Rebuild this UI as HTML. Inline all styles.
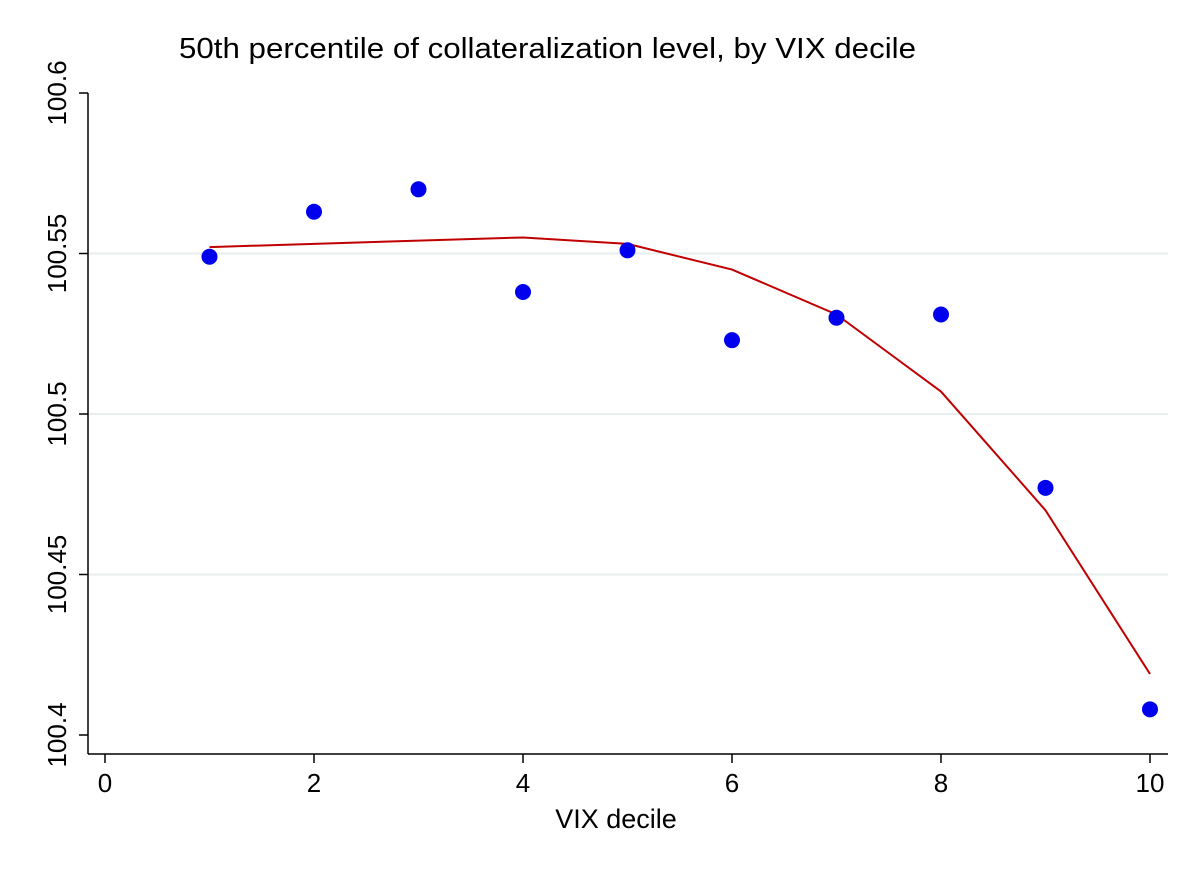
<!DOCTYPE html>
<html><head><meta charset="utf-8"><style>
html,body{margin:0;padding:0;background:#fff;}
svg text{font-family:"Liberation Sans",sans-serif;fill:#000;}
</style></head><body>
<svg width="1200" height="873" viewBox="0 0 1200 873">
<rect width="1200" height="873" fill="#fff"/>
<text x="179" y="58" font-size="29" textLength="737" lengthAdjust="spacingAndGlyphs">50th percentile of collateralization level, by VIX decile</text>
<g id="grid"></g>
<g id="axes"></g>
<g id="series"></g>
<text x="616" y="828" font-size="27" text-anchor="middle">VIX decile</text>
</svg>
<script>
const deciles=[1,2,3,4,5,6,7,8,9,10];
const medianValues=[100.549,100.563,100.570,100.538,100.551,100.523,100.530,100.531,100.477,100.408];
const fitValues=[100.552,100.553,100.554,100.555,100.553,100.545,100.531,100.507,100.470,100.419];
const xTicks=[0,2,4,6,8,10];
const yTicks=[100.4,100.45,100.5,100.55,100.6];
const yTickLabels=["100.4","100.45","100.5","100.55","100.6"];
const NS="http://www.w3.org/2000/svg";
function xs(v){return 105+v*104.5;}
function ys(v){return 735-(v-100.4)*3210;}
function mk(tag,attrs,parent){const e=document.createElementNS(NS,tag);for(const k in attrs)e.setAttribute(k,attrs[k]);parent.appendChild(e);return e;}
const grid=document.getElementById('grid'),axes=document.getElementById('axes'),series=document.getElementById('series');
yTicks.forEach((t,i)=>{
  const y=ys(t);
  if(i>0&&i<yTicks.length-1){const g=mk('line',{x1:89,x2:1168,y1:y,y2:y,stroke:'#e6eeee','stroke-width':2},grid);
  
  }
  const tk=mk('line',{x1:79,x2:88,y1:y,y2:y,stroke:'#000','stroke-width':1.5},axes);
  
  
  const tx=mk('text',{x:0,y:0,'font-size':26,'text-anchor':'middle',transform:`translate(66,${y}) rotate(-90)`},axes);
  tx.textContent=yTickLabels[i];
  
  
});
xTicks.forEach(t=>{
  const x=xs(t);
  const tk=mk('line',{x1:x,x2:x,y1:754,y2:763,stroke:'#000','stroke-width':1.5},axes);
  
  
  const tx=mk('text',{x:x,y:792,'font-size':26,'text-anchor':'middle'},axes);
  tx.textContent=String(t);
  
  
});
const ya=mk('line',{x1:88,x2:88,y1:ys(100.6),y2:754,stroke:'#000','stroke-width':1.5},axes);


const xa=mk('line',{x1:88,x2:1168,y1:754,y2:754,stroke:'#000','stroke-width':1.5},axes);


const pl=mk('polyline',{points:deciles.map((d,i)=>xs(d)+','+ys(fitValues[i])).join(' '),fill:'none',stroke:'#c00000','stroke-width':2},series);


deciles.forEach((d,i)=>{
  const c=mk('circle',{cx:xs(d),cy:ys(medianValues[i]),r:8,fill:'#0000ee'},series);
  
  
});
</script>
</body></html>
